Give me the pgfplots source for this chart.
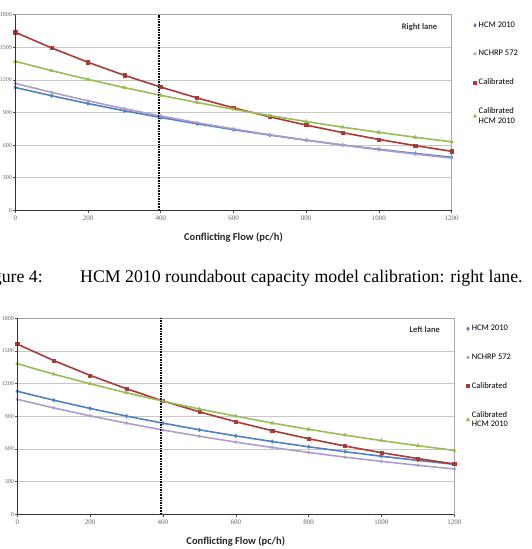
\documentclass[border=0pt]{standalone}
\usepackage{pgfplots}
\pgfplotsset{compat=1.18}
\usepackage{pgfplotstable}
\usepackage{fontspec}
\setmainfont{Liberation Serif}
\newfontfamily\carlito{Carlito}
\definecolor{cblue}{HTML}{4F81BD}
\definecolor{clav}{HTML}{AC9DCC}
\definecolor{cred}{HTML}{A83B38}
\definecolor{cgreen}{HTML}{9BBB59}

\pgfplotstableread{
x    hcm   nch   cal   calhcm
0    1130  1168  1638  1371
100  1054  1085  1494  1285
200  982   1007  1362  1205
300  916   935   1242  1129
400  854   868   1134  1058
500  796   806   1034  992
600  742   749   943   930
700  692   695   860   871
800  645   646   784   817
900  601   600   715   765
1000 561   557   652   718
1100 523   517   595   672
1200 488   480   543   630
}\rightlane

\pgfplotstableread{
x    hcm   nch   cal   calhcm
0    1130  1056  1563  1383
100  1048  977   1412  1287
200  972   904   1276  1199
300  902   837   1153  1116
400  837   774   1041  1039
500  776   717   941   967
600  720   663   850   901
700  668   614   768   838
800  620   568   694   781
900  575   525   627   727
1000 533   486   566   677
1100 495   450   512   630
1200 459   416   462   587
}\leftlane

\pgfplotsset{
  lanestyle/.style={
    scale only axis,
    xmin=0, xmax=1200, ymin=0, ymax=1800,
    xtick={0,200,...,1200}, ytick={0,300,...,1800},
    tick align=outside, xtick pos=bottom, ytick pos=left,
    major tick length=2.5pt,
    tick style={black!70, line width=0.6pt},
    ymajorgrids, grid style={black!22, line width=0.6pt},
    axis line style={black!35, line width=0.6pt},
    /pgf/number format/assume math mode=true,
    /pgf/number format/1000 sep={},
    tick label style={font=\fontsize{7}{8}\selectfont, text=black!60},
    yticklabel style={font=\fontsize{6}{7}\selectfont, inner sep=0.6pt},
    xlabel={Conflicting Flow (pc/h)},
    xlabel style={font=\carlito\bfseries\fontsize{10.5}{12}\selectfont, text=black!85, yshift=-5pt},
    legend style={draw=none, fill=none, inner sep=0pt, font=\carlito\fontsize{8.5}{9.5}\selectfont,
      cells={anchor=west, align=left}, row sep=17.5pt, anchor=north west},
    legend image code/.code={\draw[#1, only marks] plot coordinates {(0pt,0pt)};},
    every axis plot/.append style={line width=1.6pt},
    after end axis/.code={
      \draw[black!80, line width=0.8pt] (rel axis cs:0,1) -- (rel axis cs:0,0) -- (rel axis cs:1,0);
    },
  },
  sblue/.style={cblue, mark=diamond*, mark size=1.8pt, mark options={solid, fill=cblue, line width=0.5pt}},
  slav/.style={clav, mark=*, mark size=1.4pt, mark options={solid, fill=clav, line width=0.5pt}},
  sred/.style={cred, mark=square*, mark size=1.6pt, mark options={solid, fill=cred, line width=0.5pt}},
  sgreen/.style={cgreen, mark=triangle*, mark size=2pt, mark options={solid, fill=cgreen, line width=0.5pt}},
}

\begin{document}
\begin{tikzpicture}
\useasboundingbox (0pt,0pt) rectangle (532pt,549pt);

\begin{axis}[lanestyle, width=436.4pt, height=195.6pt, at={(15.3pt,338.7pt)}, anchor=south west,
  legend style={at={(axis description cs:1.049,0.975)}}]
\addplot[sblue] table[x=x, y=hcm] {\rightlane};
\addlegendentry{HCM 2010}
\addplot[slav] table[x=x, y=nch] {\rightlane};
\addlegendentry{NCHRP 572}
\addplot[sred] table[x=x, y=cal] {\rightlane};
\addlegendentry{Calibrated}
\addplot[sgreen] table[x=x, y=calhcm] {\rightlane};
\addlegendentry{Calibrated\\HCM 2010}
\addplot[black, densely dotted, line width=1.3pt, forget plot] coordinates {(395,0) (395,1800)};
\node[anchor=north east, font=\carlito\bfseries\fontsize{8.5}{10}\selectfont, text=black!80]
  at (rel axis cs:0.975,0.975) {Right lane};
\end{axis}

\node[anchor=base east, font=\fontsize{17.8}{20}\selectfont, inner sep=0pt] at (43pt,266pt) {Figure 4:};
\node[anchor=base west, font=\fontsize{17.8}{20}\selectfont, inner sep=0pt] at (80pt,266pt) {HCM 2010 roundabout capacity model calibration: right lane.};

\begin{axis}[lanestyle, width=437pt, height=196pt, at={(17.3pt,34.7pt)}, anchor=south west,
  legend style={at={(axis description cs:1.027,0.975)}}]
\addplot[sblue] table[x=x, y=hcm] {\leftlane};
\addlegendentry{HCM 2010}
\addplot[slav] table[x=x, y=nch] {\leftlane};
\addlegendentry{NCHRP 572}
\addplot[sred] table[x=x, y=cal] {\leftlane};
\addlegendentry{Calibrated}
\addplot[sgreen] table[x=x, y=calhcm] {\leftlane};
\addlegendentry{Calibrated\\HCM 2010}
\addplot[black, densely dotted, line width=1.3pt, forget plot] coordinates {(395,0) (395,1800)};
\node[anchor=north east, font=\carlito\bfseries\fontsize{8.5}{10}\selectfont, text=black!80]
  at (rel axis cs:0.975,0.975) {Left lane};
\end{axis}
\end{tikzpicture}
\end{document}
